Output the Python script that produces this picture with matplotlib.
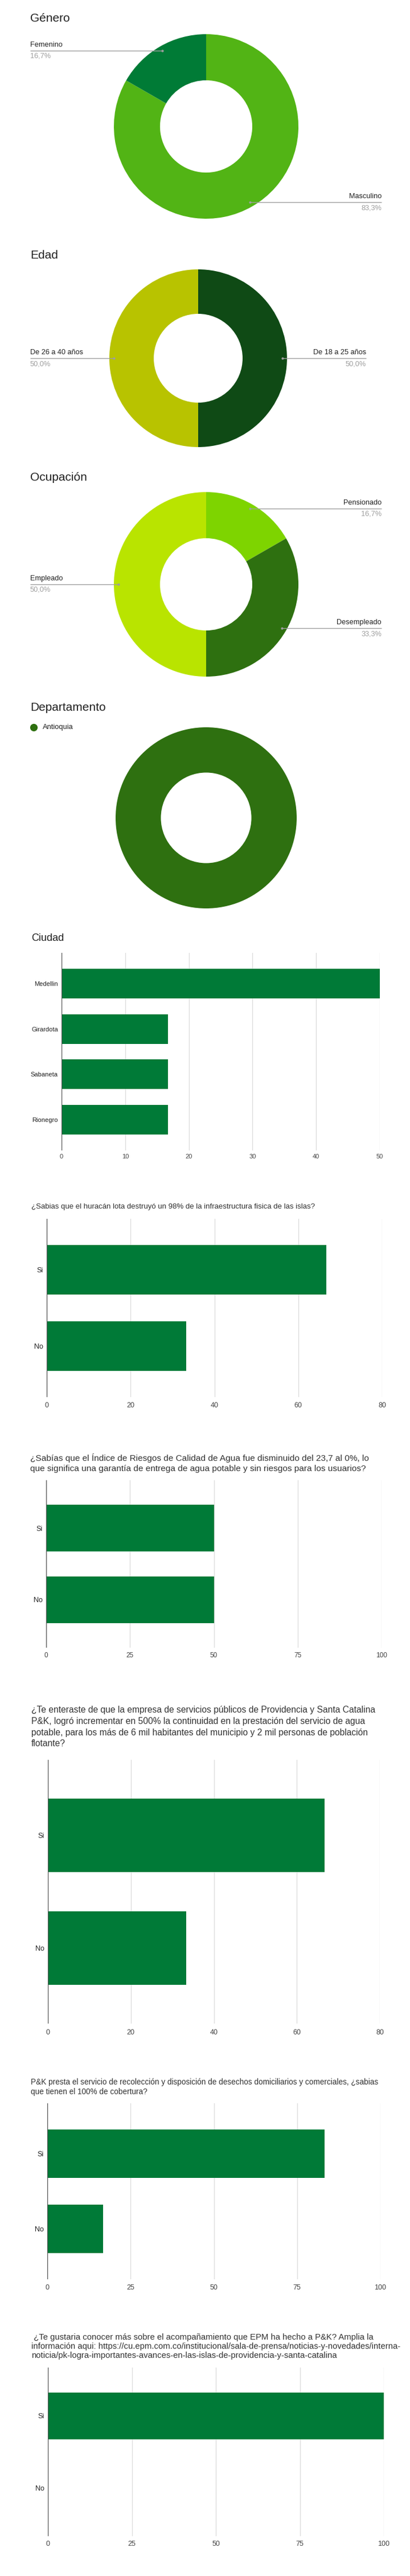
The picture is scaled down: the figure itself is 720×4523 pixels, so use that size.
import matplotlib
matplotlib.use('Agg')
import matplotlib.pyplot as plt
import numpy as np

plt.rcParams['font.family'] = ['Liberation Sans', 'DejaVu Sans']

# ---------------- data ----------------
genero_labels = ['Masculino', 'Femenino']
genero_values = [83.3, 16.7]
genero_colors = ['#52b415', '#007b36']

edad_labels = ['De 18 a 25 años', 'De 26 a 40 años']
edad_values = [50.0, 50.0]
edad_colors = ['#0f4a15', '#b8c300']

ocup_labels = ['Pensionado', 'Desempleado', 'Empleado']
ocup_values = [16.7, 33.3, 50.0]
ocup_colors = ['#7ed400', '#2e7010', '#b9e400']

depto_labels = ['Antioquia']
depto_values = [100.0]
depto_colors = ['#2e7010']

ciudad_cats = ['Medellin', 'Girardota', 'Sabaneta', 'Rionegro']
ciudad_vals = [50.0, 16.7, 16.7, 16.7]
ciudad_ticks = [0, 10, 20, 30, 40, 50]

sino_cats = ['Si', 'No']
q1_title = ['¿Sabias que el huracán lota destruyó un 98% de la infraestructura fisica de las islas?']
q1_vals = [66.7, 33.3]
q1_ticks = [0, 20, 40, 60, 80]

q2_title = ['¿Sabías que el Índice de Riesgos de Calidad de Agua fue disminuido del 23,7 al 0%, lo',
            'que significa una garantía de entrega de agua potable y sin riesgos para los usuarios?']
q2_vals = [50.0, 50.0]
q2_ticks = [0, 25, 50, 75, 100]

q3_title = ['¿Te enteraste de que la empresa de servicios públicos de Providencia y Santa Catalina',
            'P&K, logró incrementar en 500% la continuidad en la prestación del servicio de agua',
            'potable, para los más de 6 mil habitantes del municipio y 2 mil personas de población',
            'flotante?']
q3_vals = [66.7, 33.3]
q3_ticks = [0, 20, 40, 60, 80]

q4_title = ['P&K presta el servicio de recolección y disposición de desechos domiciliarios y comerciales, ¿sabias',
            'que tienen el 100% de cobertura?']
q4_vals = [83.3, 16.7]
q4_ticks = [0, 25, 50, 75, 100]

q5_title = [' ¿Te gustaria conocer más sobre el acompañamiento que EPM ha hecho a P&K? Amplia la',
            'información aqui: https://cu.epm.com.co/institucional/sala-de-prensa/noticias-y-novedades/interna-',
            'noticia/pk-logra-importantes-avances-en-las-islas-de-providencia-y-santa-catalina']
q5_vals = [100.0, 0.0]
q5_ticks = [0, 25, 50, 75, 100]

BAR_COLOR = '#007a37'

# ---------------- figure ----------------
W, H = 720, 4523
fig = plt.figure(figsize=(W / 100, H / 100), dpi=100)
fig.patch.set_facecolor('white')


def rect(x0, y0, x1, y1):
    return [x0 / W, 1 - y1 / H, (x1 - x0) / W, (y1 - y0) / H]


overlay = fig.add_axes([0, 0, 1, 1])
overlay.set_xlim(0, W)
overlay.set_ylim(H, 0)
overlay.axis('off')
overlay.set_zorder(10)
overlay.patch.set_alpha(0)

renderer = fig.canvas.get_renderer()


def fit_text(x, y, s, target_w, base_fs, **kw):
    t = overlay.text(x, y, s, fontsize=base_fs, **kw)
    w = t.get_window_extent(renderer).width
    t.set_fontsize(base_fs * target_w / w)
    return t


def pct(v):
    return f"{v:.1f}".replace('.', ',') + '%'


def donut(title, title_y, labels, values, colors, cx, cy, R, lx, rx, show_labels=True):
    overlay.text(53, title_y, title, fontsize=15, va='center', ha='left', color='#212121')
    ax = fig.add_axes(rect(cx - R, cy - R, cx + R, cy + R))
    wedges, _ = ax.pie(values, colors=colors, startangle=90, counterclock=False,
                       radius=1, wedgeprops=dict(width=0.5, edgecolor='none'))
    ax.set_xlim(-1, 1)
    ax.set_ylim(-1, 1)
    ax.set_aspect('auto')
    ax.axis('off')
    if not show_labels:
        return
    for w, lab, v in zip(wedges, labels, values):
        mid = np.deg2rad((w.theta1 + w.theta2) / 2)
        px = cx + 0.95 * R * np.cos(mid)
        py = cy - 0.95 * R * np.sin(mid)
        if np.cos(mid) > 1e-6:
            end, ha = rx, 'right'
        else:
            end, ha = lx, 'left'
        overlay.plot([px, end], [py, py], color='#9e9e9e', lw=1, solid_capstyle='butt')
        overlay.plot([px], [py], 'o', ms=3, color='#9e9e9e', mec='none')
        overlay.text(end, py - 10, lab, ha=ha, va='center', fontsize=9.2, color='#222222')
        overlay.text(end, py + 10, pct(v), ha=ha, va='center', fontsize=9.2, color='#9e9e9e')


def barchart(title_lines, title_x, title_ys, title_w, cats, vals, ticks, box,
             tick_fs, cat_fs, tick_pad, title_color='#333333'):
    # title
    t0 = fit_text(title_x, title_ys[0], title_lines[0], title_w, 10, va='center', ha='left',
                  color=title_color)
    fs = t0.get_fontsize()
    for s, yy in zip(title_lines[1:], title_ys[1:]):
        overlay.text(title_x, yy, s, fontsize=fs, va='center', ha='left', color=title_color)
    x0, y0, x1, y1 = box
    ax = fig.add_axes(rect(x0, y0, x1, y1))
    y = np.arange(len(cats))
    ax.barh(y, vals, height=0.65, color=BAR_COLOR, zorder=3)
    ax.set_ylim(len(cats) - 1 + 0.67, -0.67)
    ax.set_xlim(0, ticks[-1])
    ax.set_xticks(ticks)
    ax.set_xticklabels([str(t) for t in ticks], fontsize=tick_fs, color='#444444')
    ax.set_yticks(y)
    ax.set_yticklabels(cats, fontsize=cat_fs, color='#222222')
    ax.grid(axis='x', color='#dddddd', lw=1, zorder=0)
    ax.set_axisbelow(True)
    ax.axvline(0, color='#555555', lw=1, zorder=4)
    for sp in ax.spines.values():
        sp.set_visible(False)
    ax.tick_params(axis='both', length=0)
    ax.tick_params(axis='x', pad=tick_pad)
    ax.tick_params(axis='y', pad=4.5)
    ax.patch.set_alpha(0)


# ---------------- donuts ----------------
donut('Género', 33, genero_labels, genero_values, genero_colors, 362, 222, 162, 53, 670)
donut('Edad', 448, edad_labels, edad_values, edad_colors, 348, 629, 156, 53, 643)
donut('Ocupación', 838, ocup_labels, ocup_values, ocup_colors, 362, 1026, 162, 53, 670)
donut('Departamento', 1243, depto_labels, depto_values, depto_colors, 362, 1436, 159, 53, 670,
      show_labels=False)
overlay.plot([59], [1277], 'o', ms=9.5, color=depto_colors[0], mec='none')
overlay.text(75, 1277, depto_labels[0], fontsize=9.3, va='center', ha='left', color='#222222')

# ---------------- bar charts ----------------
overlay.text(55, 1647, 'Ciudad', fontsize=13, va='center', ha='left', color='#212121')
ax_c = fig.add_axes(rect(108, 1673, 667, 2020))
yc = np.arange(len(ciudad_cats))
ax_c.barh(yc, ciudad_vals, height=0.65, color=BAR_COLOR, zorder=3)
ax_c.set_ylim(len(ciudad_cats) - 1 + 0.68, -0.68)
ax_c.set_xlim(0, ciudad_ticks[-1])
ax_c.set_xticks(ciudad_ticks)
ax_c.set_xticklabels([str(t) for t in ciudad_ticks], fontsize=8, color='#444444')
ax_c.set_yticks(yc)
ax_c.set_yticklabels(ciudad_cats, fontsize=8, color='#222222')
ax_c.grid(axis='x', color='#dddddd', lw=1, zorder=0)
ax_c.set_axisbelow(True)
ax_c.axvline(0, color='#555555', lw=1, zorder=4)
for sp in ax_c.spines.values():
    sp.set_visible(False)
ax_c.tick_params(axis='both', length=0)
ax_c.tick_params(axis='x', pad=4.5)
ax_c.tick_params(axis='y', pad=4.5)
ax_c.patch.set_alpha(0)

barchart(q1_title, 55, [2119], 503, sino_cats, q1_vals, q1_ticks,
         (82, 2140, 671, 2453), 9, 9, 6.5)
barchart(q2_title, 53, [2560, 2579], 595, sino_cats, q2_vals, q2_ticks,
         (81, 2599, 670, 2893), 8.5, 9, 6)
barchart(q3_title, 55, [3003, 3023, 3042, 3061], 607, sino_cats, q3_vals, q3_ticks,
         (84, 3090, 667, 3553), 9, 9, 7)
barchart(q4_title, 54, [3656, 3673], 611, sino_cats, q4_vals, q4_ticks,
         (83, 3693, 668, 4002), 9, 9, 6.5)
barchart(q5_title, 55, [4104, 4120, 4136], 605, sino_cats, q5_vals, q5_ticks,
         (84, 4157, 674, 4453), 9, 9, 6)

fig.savefig('out.png', dpi=100, facecolor='white')
